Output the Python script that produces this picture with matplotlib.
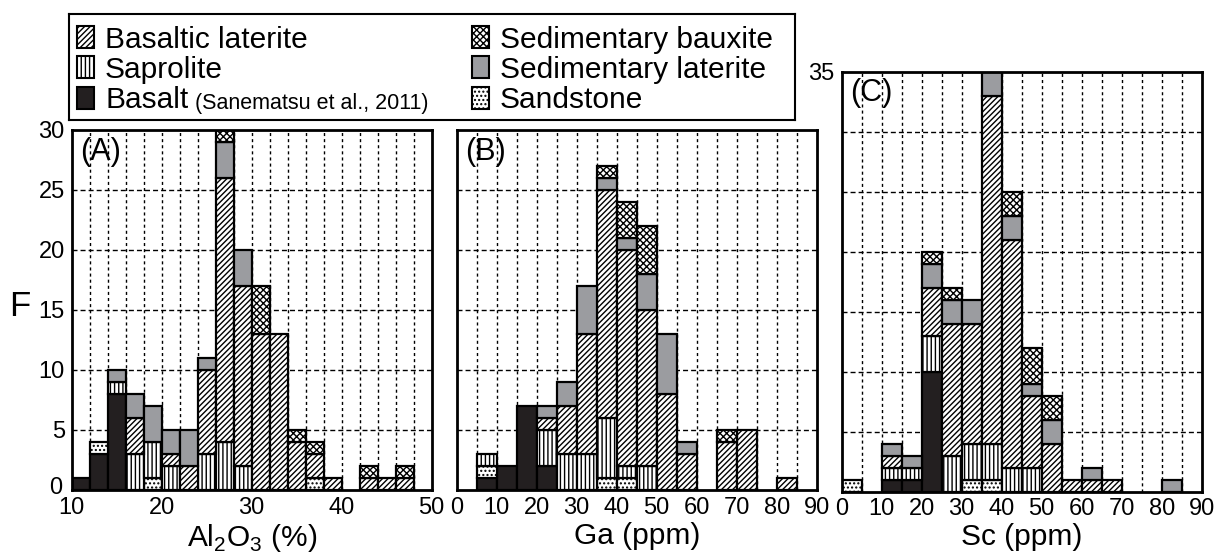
"""Stacked frequency histograms of Al2O3, Ga and Sc by rock type."""

import matplotlib.pyplot as plt
import matplotlib.transforms as mtransforms
import numpy as np
from matplotlib.patches import Rectangle

W, H = 1215, 556

plt.rcParams["font.family"] = ["Liberation Sans", "DejaVu Sans"]
plt.rcParams["mathtext.fontset"] = "custom"
plt.rcParams["mathtext.rm"] = "Liberation Sans"
plt.rcParams["hatch.linewidth"] = 1.0
plt.rcParams["hatch.color"] = "black"

# stacking order, bottom to top
CATEGORIES = ["Basalt", "Sandstone", "Saprolite", "Basaltic laterite",
              "Sedimentary laterite", "Sedimentary bauxite"]

# (A) Al2O3 (%), 2 % bins from 10 to 48
AL_LEFT = np.arange(10, 48, 2)
AL_COUNTS = {
    "Basalt":               [1, 3, 8, 0, 0, 0, 0, 0, 0, 0, 0, 0, 0, 0, 0, 0, 0, 0, 0],
    "Sandstone":            [0, 1, 0, 0, 1, 0, 0, 0, 0, 0, 0, 0, 0, 1, 0, 0, 0, 0, 0],
    "Saprolite":            [0, 0, 1, 3, 3, 2, 0, 3, 4, 2, 0, 0, 0, 0, 0, 0, 0, 0, 0],
    "Basaltic laterite":    [0, 0, 0, 3, 0, 1, 2, 7, 22, 15, 13, 13, 4, 2, 1, 0, 1, 1, 1],
    "Sedimentary laterite": [0, 0, 1, 2, 3, 2, 3, 1, 3, 3, 0, 0, 0, 0, 0, 0, 0, 0, 0],
    "Sedimentary bauxite":  [0, 0, 0, 0, 0, 0, 0, 0, 1, 0, 4, 0, 1, 1, 0, 0, 1, 0, 1],
}

# (B) Ga (ppm), 5 ppm bins from 0 to 90
GA_LEFT = np.arange(0, 90, 5)
GA_COUNTS = {
    "Basalt":               [0, 1, 2, 7, 2, 0, 0, 0, 0, 0, 0, 0, 0, 0, 0, 0, 0, 0],
    "Sandstone":            [0, 1, 0, 0, 0, 0, 0, 1, 1, 0, 0, 0, 0, 0, 0, 0, 0, 0],
    "Saprolite":            [0, 1, 0, 0, 3, 3, 3, 5, 1, 2, 0, 0, 0, 0, 0, 0, 0, 0],
    "Basaltic laterite":    [0, 0, 0, 0, 1, 4, 10, 19, 18, 13, 8, 3, 0, 4, 5, 0, 1, 0],
    "Sedimentary laterite": [0, 0, 0, 0, 1, 2, 4, 1, 1, 3, 5, 1, 0, 0, 0, 0, 0, 0],
    "Sedimentary bauxite":  [0, 0, 0, 0, 0, 0, 0, 1, 3, 4, 0, 0, 0, 1, 0, 0, 0, 0],
}

# (C) Sc (ppm), 5 ppm bins from 0 to 90
SC_LEFT = np.arange(0, 90, 5)
SC_COUNTS = {
    "Basalt":               [0, 0, 1, 1, 10, 0, 0, 0, 0, 0, 0, 0, 0, 0, 0, 0, 0, 0],
    "Sandstone":            [1, 0, 0, 0, 0, 0, 1, 1, 0, 0, 0, 0, 0, 0, 0, 0, 0, 0],
    "Saprolite":            [0, 0, 1, 1, 3, 3, 3, 3, 2, 2, 0, 0, 0, 0, 0, 0, 0, 0],
    "Basaltic laterite":    [0, 0, 1, 0, 4, 11, 10, 29, 19, 6, 4, 1, 1, 1, 0, 0, 0, 0],
    "Sedimentary laterite": [0, 0, 1, 1, 2, 2, 2, 2, 2, 1, 2, 0, 1, 0, 0, 0, 1, 0],
    "Sedimentary bauxite":  [0, 0, 0, 0, 1, 1, 0, 0, 2, 3, 2, 0, 0, 0, 0, 0, 0, 0],
}

STYLE = {
    "Basalt": ("#231f20", None),
    "Sandstone": ("white", "...."),
    "Saprolite": ("white", "||||"),
    "Basaltic laterite": ("white", "//////"),
    "Sedimentary laterite": ("#9b9ca0", None),
    "Sedimentary bauxite": ("white", "xxxxx"),
}

TICK_FS = 17
LABEL_FS = 21.5
LEGEND_FS = 21.5


def px_axes(fig, left, top, right, bottom):
    return fig.add_axes([left / W, 1 - bottom / H, (right - left) / W, (bottom - top) / H])


def stacked_hist(ax, lefts, width, counts):
    bottom = np.zeros(len(lefts))
    for name in CATEGORIES:
        vals = np.asarray(counts[name], dtype=float)
        keep = vals > 0
        face, hatch = STYLE[name]
        ax.bar(lefts[keep], vals[keep], width=width, bottom=bottom[keep], align="edge",
               color=face, hatch=hatch, edgecolor="black", linewidth=1.6, zorder=2)
        bottom += vals


def style_panel(ax, xlim, xstep, ymax, tag):
    ax.set_xlim(*xlim)
    ax.set_ylim(0, ymax)
    for x in np.arange(xlim[0] + xstep, xlim[1], xstep):
        ax.axvline(x, color="black", linewidth=1.0, linestyle=(0, (2.2, 2.2)), zorder=1)
    for y in range(5, ymax, 5):
        ax.axhline(y, color="black", linewidth=1.0, linestyle=(0, (3.6, 2.2)), zorder=1)
    for spine in ax.spines.values():
        spine.set_linewidth(2.0)
        spine.set_zorder(3)
    ax.tick_params(length=0, labelsize=TICK_FS)
    ax.tick_params(axis="x", pad=5)
    ax.tick_params(axis="y", pad=5)
    ax.annotate(tag, xy=(0, 1), xycoords="axes fraction", xytext=(6, -5),
                textcoords="offset points", ha="left", va="top", fontsize=22)


fig = plt.figure(figsize=(W / 100, H / 100), dpi=100)

ax_a = px_axes(fig, 71.7, 130, 431.7, 490)
stacked_hist(ax_a, AL_LEFT, 2, AL_COUNTS)
style_panel(ax_a, (10, 50), 2, 30, "(A)")
ax_a.set_xticks([10, 20, 30, 40, 50])
ax_a.set_yticks(range(0, 31, 5))
ax_a.set_xlabel(r"Al$_\mathregular{2}$O$_\mathregular{3}$ (%)", fontsize=LABEL_FS, labelpad=2)
# the "0" on the y axis sits just above-left of the "10" on the x axis
zero_label = ax_a.get_yticklabels()[0]
zero_label.set_transform(zero_label.get_transform()
                         + mtransforms.ScaledTranslation(-3 / 100, 4 / 100, fig.dpi_scale_trans))

ax_b = px_axes(fig, 456.7, 130, 816.7, 490)
stacked_hist(ax_b, GA_LEFT, 5, GA_COUNTS)
style_panel(ax_b, (0, 90), 5, 30, "(B)")
ax_b.set_xticks(range(0, 91, 10))
ax_b.set_yticks([])
ax_b.set_xlabel("Ga (ppm)", fontsize=LABEL_FS, labelpad=2)

ax_c = px_axes(fig, 841.7, 71.5, 1201.7, 491.5)
stacked_hist(ax_c, SC_LEFT, 5, SC_COUNTS)
style_panel(ax_c, (0, 90), 5, 35, "(C)")
ax_c.set_xticks(range(0, 91, 10))
ax_c.set_yticks([35])
ax_c.set_xlabel("Sc (ppm)", fontsize=LABEL_FS, labelpad=2)

fig.text(20 / W, 1 - 307 / H, "F", fontsize=25, ha="center", va="center")

# legend box, laid out in pixel units inside the frame
box_l, box_t, box_r, box_b = 69, 14, 795, 120
ax_leg = px_axes(fig, box_l, box_t, box_r, box_b)
ax_leg.set_xlim(0, box_r - box_l)
ax_leg.set_ylim(box_b - box_t, 0)
ax_leg.set_xticks([])
ax_leg.set_yticks([])
for spine in ax_leg.spines.values():
    spine.set_linewidth(1.5)

legend_cols = [["Basaltic laterite", "Saprolite", "Basalt"],
               ["Sedimentary bauxite", "Sedimentary laterite", "Sandstone"]]
col_x = [8, 403]
row_y = [23, 53, 84]
texts = {}
for names, cx in zip(legend_cols, col_x):
    for name, cy in zip(names, row_y):
        face, hatch = STYLE[name]
        ax_leg.add_patch(Rectangle((cx, cy - 11), 17, 22, facecolor=face, hatch=hatch,
                                   edgecolor="black", linewidth=1.5))
        texts[name] = ax_leg.text(cx + 28, cy + 10.5, name, fontsize=LEGEND_FS,
                                  ha="left", va="baseline")

ax_leg.annotate("(Sanematsu et al., 2011)", xy=(1, row_y[2] + 10.5),
                xycoords=(texts["Basalt"], ax_leg.transData),
                xytext=(5, 0), textcoords="offset points",
                fontsize=15.5, ha="left", va="baseline")

fig.savefig("out.png", dpi=100)
